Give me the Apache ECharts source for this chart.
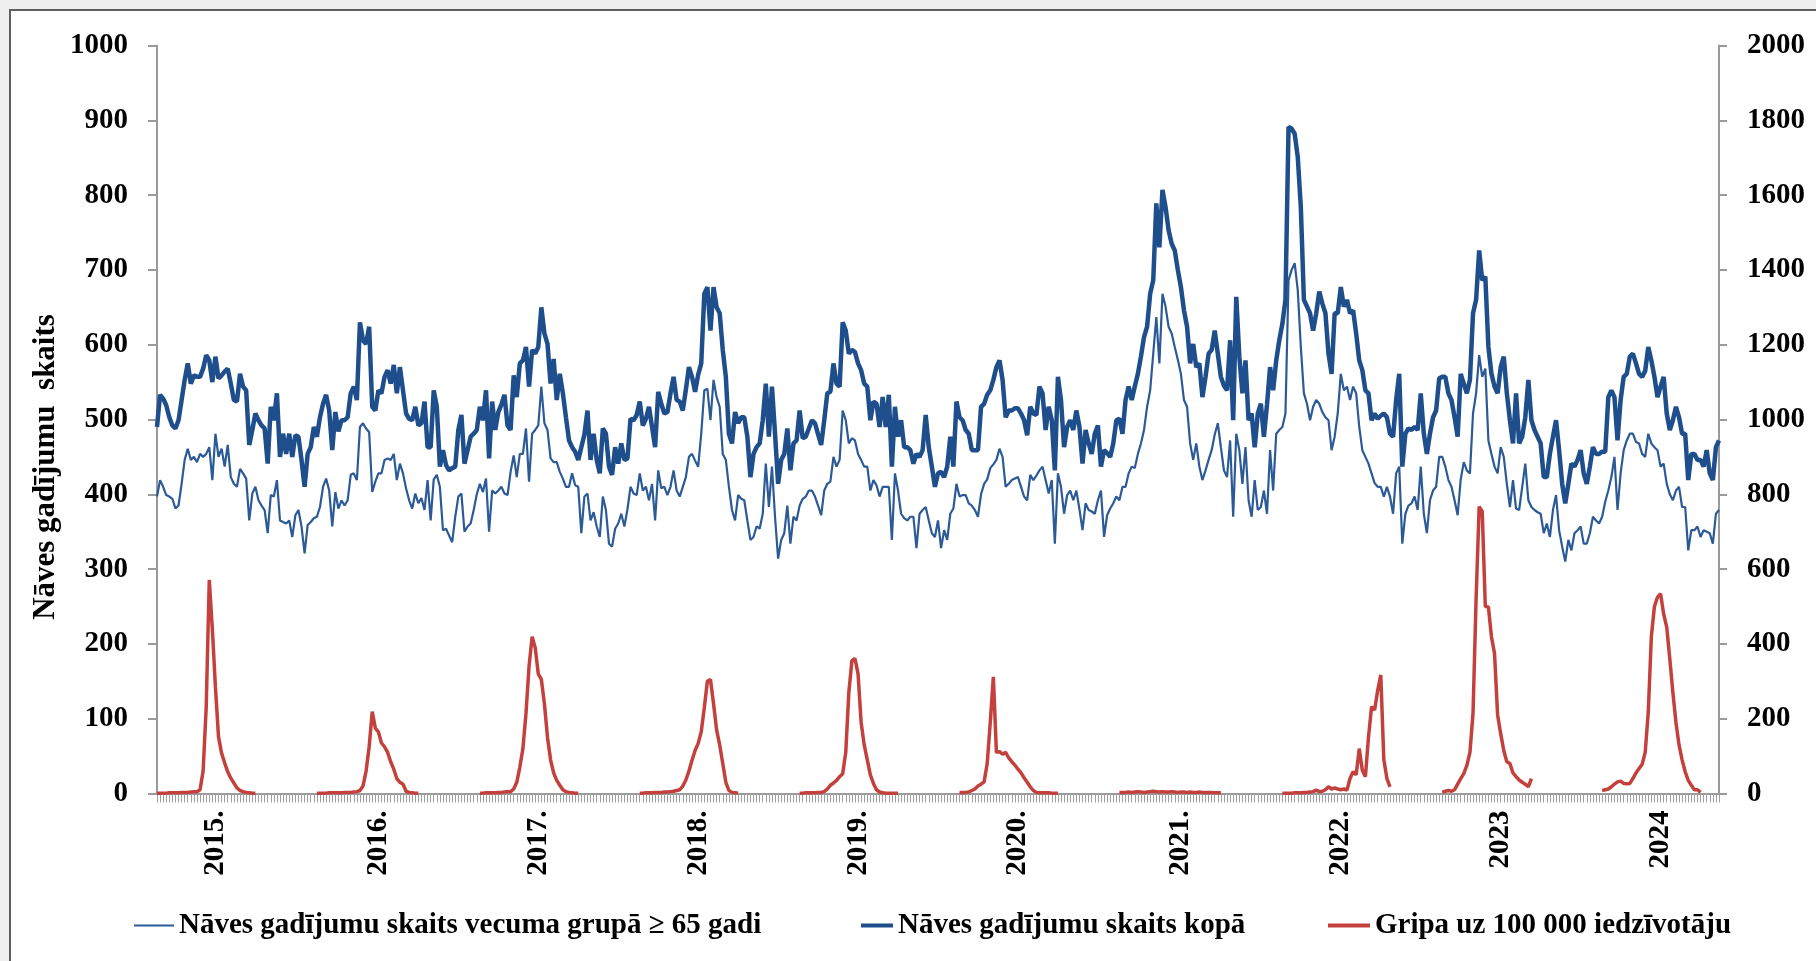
<!DOCTYPE html>
<html><head><meta charset="utf-8">
<script src="https://cdn.jsdelivr.net/npm/echarts@6/dist/echarts.min.js"></script>
<style>
html,body{margin:0;padding:0;width:1816px;height:961px;overflow:hidden;background:#efefef;}
#panel{position:absolute;left:9px;top:9px;width:1840px;height:980px;background:#fff;border:2px solid #5e5e5e;box-sizing:border-box;}
#chart{position:absolute;left:0;top:0;width:1816px;height:961px;}
</style></head><body>
<div id="panel"></div><div id="chart"></div>
<script>
// ---- calendar (ISO weeks) ----
const weeksInYear = {2014:52,2015:53,2016:52,2017:52,2018:52,2019:52,2020:53,2021:52,2022:52,2023:52,2024:52};
const firstYear = 2014, firstWeekNo = 40, lastYear = 2024, lastWeekNo = 26;
const yearLabels = ['2015.','2016.','2017.','2018.','2019.','2020.','2021.','2022.','2023','2024'];
const labelWeek = 7;

// ---- total deaths per week (left axis) ----
const deathsTotal = [
490,533,528,519,503,492,488,499,526,553,575,548,559,557,557,568,586,579,550,584,
555,559,564,568,548,526,524,561,544,539,466,486,508,499,492,488,441,517,499,535,
450,481,454,481,450,479,477,446,410,454,463,490,477,503,521,533,512,459,510,484,
499,499,503,535,544,526,630,606,601,624,517,512,539,535,557,566,548,573,535,570,
539,508,501,499,517,492,
495,524,463,463,539,517,437,459,439,432,435,437,486,506,441,459,477,481,486,517,
499,539,448,524,486,510,520,533,492,486,559,530,575,579,597,544,593,588,597,650,
615,601,548,581,526,561,535,503,472,463,457,446,463,480,512,446,481,446,428,488,
481,437,426,463,441,468,446,448,501,499,506,524,492,501,517,490,463,537,521,508,
510,535,557,526,524,
512,540,570,557,537,560,575,668,677,619,677,650,642,593,557,481,468,510,495,503,
503,477,423,454,463,468,499,548,477,544,481,414,446,454,488,432,468,472,512,475,
477,488,499,495,480,466,499,535,537,575,548,544,630,619,588,593,590,575,566,548,
544,499,524,521,490,530,490,533,437,517,477,499,463,463,459,441,454,450,459,506,
463,437,410,428,
430,423,437,477,437,524,503,499,486,481,459,459,459,517,521,533,539,553,570,579,
553,503,512,512,515,515,508,499,479,517,508,506,544,535,486,517,499,432,557,526,
463,490,499,486,512,490,441,486,468,454,481,492,437,459,455,450,468,499,501,481,
526,544,526,544,561,584,610,624,668,686,789,730,807,784,753,735,726,700,677,646,
624,575,601,570,575,
530,557,588,593,619,588,557,545,539,606,499,664,584,535,579,499,508,463,508,521,
477,520,570,539,579,606,628,660,891,889,882,851,784,660,651,642,619,642,671,655,
642,588,561,642,642,677,651,660,642,646,615,579,566,539,535,499,508,501,505,508,
503,481,477,526,561,437,481,488,486,490,486,535,481,454,481,503,512,555,557,557,
535,526,503,477,561,
548,535,553,642,660,726,686,691,597,561,544,535,570,584,535,499,468,535,468,477,
503,553,499,486,477,468,423,423,454,477,499,459,414,388,414,441,437,446,459,428,
414,437,463,454,454,457,457,530,539,530,472,526,557,561,584,588,575,561,557,565,
597,579,557,530,544,557,508,486,499,517,503,481,481,419,454,454,446,446,437,459,
428,419,463,472
];

// ---- deaths aged 65+ per week (left axis) ----
const deaths65 = [
397,419,410,399,397,394,381,385,414,446,461,446,450,443,454,450,454,463,419,481,
450,461,437,466,423,414,410,434,428,421,365,401,410,392,385,379,348,399,397,419,
365,363,361,365,343,372,379,357,321,359,363,368,370,383,410,421,405,357,403,381,
392,385,392,426,428,419,490,495,488,483,403,417,428,428,446,448,446,454,419,441,
428,408,392,381,401,388,
395,379,419,365,420,426,410,352,354,345,336,370,397,401,350,357,361,379,400,414,
403,421,350,405,401,405,410,401,399,430,452,423,454,454,488,417,481,486,492,544,
495,486,448,443,443,430,421,410,410,428,412,410,348,397,401,365,376,357,343,397,
379,334,330,354,361,374,357,380,410,401,399,428,405,410,392,414,365,432,408,410,
399,410,432,405,397,
410,423,450,454,445,437,481,539,541,499,553,530,517,454,446,410,379,365,399,394,
392,365,339,343,357,354,374,441,383,437,370,314,339,348,385,334,370,365,385,394,
397,405,405,397,385,372,405,414,417,450,437,446,512,499,468,475,472,454,446,437,
437,405,419,412,397,410,410,410,339,428,405,374,368,365,370,370,328,374,379,383,
365,348,343,365,
328,352,339,374,381,414,397,399,399,388,385,379,370,400,414,420,435,440,446,461,
450,410,414,419,421,423,410,397,392,426,419,425,432,437,419,401,419,334,428,410,
374,399,405,392,405,380,352,388,379,377,374,392,405,343,372,381,388,397,392,410,
410,428,437,435,454,468,486,517,539,588,637,575,668,651,624,615,597,580,561,526,
517,468,446,468,437,
419,432,446,459,480,495,463,432,423,472,370,481,459,414,463,392,370,419,379,383,
405,374,459,405,481,486,490,508,686,700,709,673,597,535,521,499,517,526,521,510,
503,499,459,477,508,561,539,544,526,544,535,490,459,450,441,428,415,410,410,397,
410,397,374,428,437,334,374,385,388,397,379,437,374,348,392,405,410,450,450,437,
419,410,392,372,420,
443,432,428,508,535,586,557,568,472,454,437,428,463,450,414,383,419,381,379,410,
441,392,383,379,376,374,348,361,343,379,399,352,330,310,339,325,348,352,357,334,
334,348,370,365,361,370,390,405,423,450,379,428,459,472,481,481,470,468,454,450,
481,468,463,459,437,441,414,400,392,405,410,383,383,325,352,352,357,343,352,350,
348,334,374,379
];

// ---- influenza per 100 000 (right axis), one array per season, weeks 40 -> ~20 ----
const fluSeasonStarts = ['2014-40','2015-40','2016-40','2017-40','2018-40','2019-40','2020-40','2021-40','2022-40','2023-40'];
const flu2015 = [1,1,1,1,2,2,2,2,3,3,3,4,5,5,10,60,230,571,440,285,152,108,82,58,41,28,15,8,5,3,2,1,1];
const flu2016 = [1,1,1,1,2,2,2,2,2,3,3,3,4,5,8,20,60,125,219,175,165,135,125,110,85,65,40,30,25,6,3,2,1,1];
const flu2017 = [1,1,2,2,2,2,3,3,4,5,5,12,30,70,120,214,340,419,390,320,305,240,150,90,55,35,22,10,5,3,2,1,1];
const flu2018 = [1,1,2,2,2,3,3,3,4,4,5,6,8,10,20,36,60,89,115,134,165,230,300,305,240,170,130,80,30,8,3,2,1];
const flu2019 = [1,1,2,2,2,2,3,3,5,12,22,28,35,45,53,110,270,355,361,320,190,130,90,50,27,10,4,2,1,1,1,1,1];
const flu2020 = [3,3,3,4,8,12,20,25,31,80,190,312,110,112,105,110,95,85,76,65,55,42,30,18,8,3,2,2,2,2,1,1,1];
const flu2021 = [3,3,3,4,3,4,5,4,3,4,5,6,5,4,5,4,4,5,4,3,4,4,3,4,3,3,4,3,3,3,3,2,2,2];
const flu2022 = [1,1,1,1,2,2,2,3,3,4,5,9,5,6,10,18,12,15,12,10,12,9,40,58,50,120,62,45,150,232,223,276,317,90,40,18];
const flu2023 = [3,6,8,6,10,25,40,53,75,110,214,520,767,754,500,499,419,374,210,160,115,85,80,55,45,36,30,25,18,40];
const flu2024 = [8,10,12,18,25,31,33,27,26,27,40,55,67,78,110,218,420,500,525,534,480,445,360,270,190,130,90,58,35,22,10,10,3];
const fluSeasons = [flu2015,flu2016,flu2017,flu2018,flu2019,flu2020,flu2021,flu2022,flu2023,flu2024];

const nameOld = 'Nāves gadījumu skaits vecuma grupā ≥ 65 gadi';
const nameAll = 'Nāves gadījumu skaits kopā';
const nameFlu = 'Gripa uz 100 000 iedzīvotāju';

// ---- build category axis ----
const categories = [];
for (let y = firstYear; y <= lastYear; y++) {
  const w0 = (y === firstYear) ? firstWeekNo : 1;
  const w1 = (y === lastYear) ? lastWeekNo : weeksInYear[y];
  for (let w = w0; w <= w1; w++) categories.push(y + '-' + String(w).padStart(2, '0'));
}
const flu = categories.map(() => null);
fluSeasons.forEach((arr, i) => {
  const s = categories.indexOf(fluSeasonStarts[i]);
  arr.forEach((v, j) => { flu[s + j] = v; });
});

const FONT = '"Liberation Serif", "Times New Roman", serif';
const axisGrey = '#9a9a9a';
const cThin = '#2b5a97', cThick = '#1f4e8c', cFlu = '#c4403c';
const chart = echarts.init(document.getElementById('chart'), null, {renderer: 'canvas'});
const legendText = {fontFamily: FONT, fontWeight: 'bold', fontSize: 29, color: '#000'};
const plainNum = (v) => String(v);

chart.setOption({
  animation: false,
  backgroundColor: 'transparent',
  grid: {left: 157, right: 97, top: 45.5, bottom: 167.5, containLabel: false},
  legend: [
    {data: [{name: nameOld, icon: 'rect', itemStyle: {color: cThin}}], left: 134, top: 911, itemWidth: 40, itemHeight: 2, itemGap: 0, textStyle: legendText, padding: 0},
    {data: [{name: nameAll, icon: 'rect', itemStyle: {color: cThick}}], left: 861, top: 911, itemWidth: 32, itemHeight: 4, itemGap: 0, textStyle: legendText, padding: 0},
    {data: [{name: nameFlu, icon: 'rect', itemStyle: {color: cFlu}}], left: 1328, top: 911, itemWidth: 42, itemHeight: 4, itemGap: 0, textStyle: legendText, padding: 0}
  ],
  graphic: [{
    type: 'text', x: 46, y: 467, rotation: Math.PI / 2,
    style: {text: 'Nāves gadījumu  skaits', fontFamily: FONT, fontWeight: 'bold', fontSize: 31, fill: '#000', align: 'center', verticalAlign: 'middle'}
  }],
  xAxis: {
    type: 'category', data: categories, boundaryGap: false,
    axisLine: {show: true, lineStyle: {color: axisGrey, width: 2}},
    axisTick: {show: true, interval: 0, length: 9, lineStyle: {color: '#a0a0a0', width: 1}},
    axisLabel: {
      interval: (idx, val) => val.slice(5) === String(labelWeek).padStart(2, '0'),
      formatter: (val) => yearLabels.find(l => l.slice(0, 4) === val.slice(0, 4)) || '',
      rotate: 90, margin: 17,
      fontFamily: FONT, fontWeight: 'bold', fontSize: 29, color: '#000'
    },
    splitLine: {show: false}
  },
  yAxis: [
    {type: 'value', min: 0, max: 1000, interval: 100, position: 'left',
     axisLine: {show: true, lineStyle: {color: axisGrey, width: 2}},
     axisTick: {show: true, length: 9, lineStyle: {color: axisGrey, width: 2}},
     axisLabel: {margin: 29, formatter: plainNum, fontFamily: FONT, fontWeight: 'bold', fontSize: 29, color: '#000'},
     splitLine: {show: false}},
    {type: 'value', min: 0, max: 2000, interval: 200, position: 'right',
     axisLine: {show: true, lineStyle: {color: axisGrey, width: 2}},
     axisTick: {show: true, length: 8, lineStyle: {color: axisGrey, width: 2}},
     axisLabel: {margin: 28, formatter: plainNum, fontFamily: FONT, fontWeight: 'bold', fontSize: 29, color: '#000'},
     splitLine: {show: false}}
  ],
  series: [
    {name: nameOld, type: 'line', data: deaths65, yAxisIndex: 0, symbol: 'none', showSymbol: false,
     lineStyle: {color: cThin, width: 2.2}, itemStyle: {color: cThin}, z: 3},
    {name: nameAll, type: 'line', data: deathsTotal, yAxisIndex: 0, symbol: 'none', showSymbol: false,
     lineStyle: {color: cThick, width: 4.5}, itemStyle: {color: cThick}, z: 2},
    {name: nameFlu, type: 'line', data: flu, yAxisIndex: 1, symbol: 'none', showSymbol: false, connectNulls: false,
     lineStyle: {color: cFlu, width: 3.5}, itemStyle: {color: cFlu}, z: 4}
  ]
});
</script></body></html>
